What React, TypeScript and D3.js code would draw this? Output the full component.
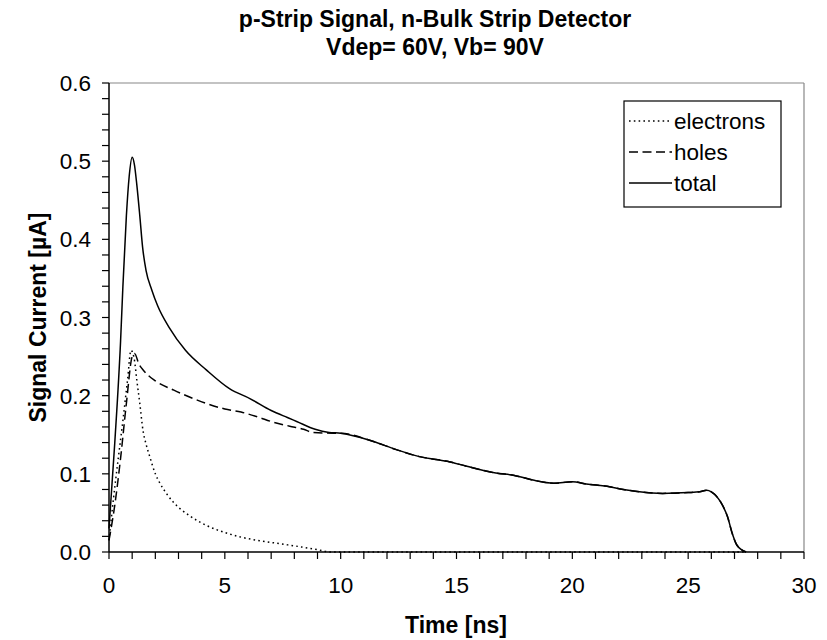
import React from "react";
import * as d3 from "d3";

const titleLines = ["p-Strip Signal, n-Bulk Strip Detector", "Vdep= 60V, Vb= 90V"];
const xTicks = [0, 5, 10, 15, 20, 25, 30];
const yTicks = [0, 0.1, 0.2, 0.3, 0.4, 0.5, 0.6];

const electronT = [0, 0.2, 0.4, 0.6, 0.8, 0.95, 1.1, 1.2, 1.33, 1.47, 1.6, 1.76, 2.0, 2.2, 2.5, 2.8, 3.5, 4.2, 5.0, 5.7, 6.5, 7.4, 8.3, 9.0, 9.6, 15, 20, 25, 27.5];
const electronV = [0.015, 0.07, 0.12, 0.168, 0.22, 0.258, 0.245, 0.22, 0.19, 0.155, 0.138, 0.122, 0.1, 0.088, 0.074, 0.063, 0.046, 0.034, 0.025, 0.019, 0.0145, 0.0105, 0.0065, 0.003, 0, 0, 0, 0, 0];

const holeT = [0, 0.25, 0.5, 0.75, 1.0, 1.1, 1.3, 1.5, 2.0, 2.8, 3.5, 4.2, 5.0, 5.7, 6.4, 7.1, 7.8, 8.4, 8.8, 9.7, 10, 11.25, 12.4, 13.4, 14.6, 15.4, 16.7, 17.5, 18.3, 19.2, 20, 20.6, 21.5, 22.2, 22.9, 23.9, 25, 25.5, 25.8, 26.0, 26.4, 26.7, 26.9, 27.1, 27.5];
const holeV = [0.015, 0.06, 0.12, 0.19, 0.25, 0.254, 0.24, 0.232, 0.219, 0.207, 0.198, 0.19, 0.183, 0.179, 0.173, 0.166, 0.161, 0.157, 0.153, 0.152, 0.152, 0.143, 0.131, 0.122, 0.116, 0.11, 0.101, 0.098, 0.092, 0.088, 0.09, 0.087, 0.084, 0.08, 0.077, 0.075, 0.076, 0.077, 0.079, 0.077, 0.064, 0.045, 0.024, 0.009, 0];

const totalT = [0, 0.25, 0.5, 0.6, 0.75, 0.87, 1.0, 1.1, 1.2, 1.33, 1.45, 1.6, 1.85, 2.1, 2.6, 3.3, 4.2, 5.2, 6.1, 7.0, 7.7, 8.1, 8.9, 9.5, 10, 11.25, 12.4, 13.4, 14.6, 15.4, 16.7, 17.5, 18.3, 19.2, 20, 20.6, 21.5, 22.2, 22.9, 23.9, 25, 25.5, 25.8, 26.0, 26.4, 26.7, 26.9, 27.1, 27.5];
const totalV = [0.03, 0.14, 0.27, 0.34, 0.43, 0.48, 0.505, 0.495, 0.47, 0.43, 0.39, 0.36, 0.335, 0.315, 0.287, 0.258, 0.233, 0.209, 0.196, 0.181, 0.172, 0.167, 0.157, 0.153, 0.152, 0.143, 0.131, 0.122, 0.116, 0.11, 0.101, 0.098, 0.092, 0.088, 0.09, 0.087, 0.084, 0.08, 0.077, 0.075, 0.076, 0.077, 0.079, 0.077, 0.064, 0.045, 0.024, 0.009, 0];

const seriesNames = ["electrons", "holes", "total"];

const FONT = "'Liberation Sans', Arial, sans-serif";

export default function App() {
  const W = 827, H = 640;
  const left = 109, right = 804, top = 83, bottom = 552;
  const x = d3.scaleLinear().domain([0, 30]).range([left, right]);
  const y = d3.scaleLinear().domain([0, 0.6]).range([bottom, top]);
  const line = d3.line<[number, number]>().x(d => x(d[0])).y(d => y(d[1])).curve(d3.curveMonotoneX);
  const zip = (t: number[], v: number[]) => t.map((tt, i) => [tt, v[i]] as [number, number]);

  const series = [
    { name: seriesNames[0], d: line(zip(electronT, electronV)), dash: "1.6,3.2" },
    { name: seriesNames[1], d: line(zip(holeT, holeV)), dash: "9,4.5" },
    { name: seriesNames[2], d: line(zip(totalT, totalV)), dash: "none" },
  ];

  const yMinor = d3.range(0, 0.6001, 0.02);
  const xMinor = d3.range(0, 30.001, 1);

  const lgX = 624, lgY = 101, lgW = 157, lgH = 106;

  return (
    <svg width={W} height={H} style={{ position: "absolute", left: 0, top: 0, background: "#fff" }} fontFamily={FONT}>
      <rect x={0} y={0} width={W} height={H} fill="#fff" />
      {titleLines.map((t, i) => (
        <text key={i} x={435} y={27 + i * 28} textAnchor="middle" fontWeight="bold" fontSize={23}>{t}</text>
      ))}
      <line x1={left} y1={top} x2={right} y2={top} stroke="#888" strokeWidth={1.2} />
      <line x1={right} y1={top} x2={right} y2={bottom} stroke="#888" strokeWidth={1.2} />
      {series.map(s => (
        <path key={s.name} d={s.d || ""} fill="none" stroke="#000" strokeWidth={1.5} strokeDasharray={s.dash} />
      ))}
      <line x1={left} y1={top} x2={left} y2={bottom} stroke="#000" strokeWidth={1.5} />
      <line x1={left} y1={bottom} x2={right} y2={bottom} stroke="#000" strokeWidth={1.5} />
      {yMinor.map((v, i) => (
        <line key={"ym" + i} x1={left - 7} x2={left} y1={y(v)} y2={y(v)} stroke="#000" strokeWidth={1.2} />
      ))}
      {xMinor.map((v, i) => (
        <line key={"xm" + i} x1={x(v)} x2={x(v)} y1={bottom} y2={bottom + 7} stroke="#000" strokeWidth={1.2} />
      ))}
      {yTicks.map((v, i) => (
        <text key={"yt" + i} x={91} y={y(v)} dy="0.36em" textAnchor="end" fontSize={22.5}>{d3.format(".1f")(v)}</text>
      ))}
      {xTicks.map((v, i) => (
        <text key={"xt" + i} x={x(v)} y={593} textAnchor="middle" fontSize={22.5}>{v}</text>
      ))}
      <text x={456} y={633} textAnchor="middle" fontWeight="bold" fontSize={23}>Time [ns]</text>
      <text transform={`translate(46, ${(top + bottom) / 2}) rotate(-90)`} textAnchor="middle" fontWeight="bold" fontSize={23}>Signal Current [µA]</text>
      <rect x={lgX} y={lgY} width={lgW} height={lgH} fill="#fff" stroke="#000" strokeWidth={1.2} />
      {series.map((s, i) => {
        const cy = lgY + 20 + i * 31;
        return (
          <g key={"lg" + i}>
            <line x1={lgX + 5} x2={lgX + 48} y1={cy} y2={cy} stroke="#000" strokeWidth={1.5} strokeDasharray={s.dash} />
            <text x={lgX + 50} y={cy} dy="0.36em" fontSize={22.5}>{s.name}</text>
          </g>
        );
      })}
    </svg>
  );
}
